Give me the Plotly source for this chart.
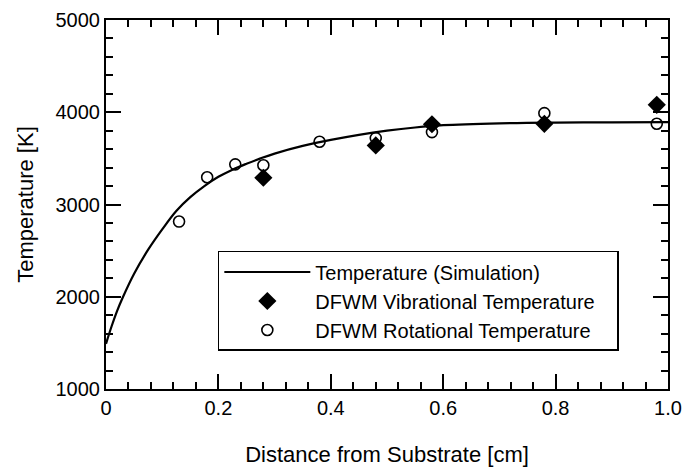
import plotly.graph_objects as go

# Simulation curve
sim_x = [0.0, 0.01, 0.02, 0.03, 0.05, 0.075, 0.1, 0.125, 0.15, 0.175, 0.2, 0.225,
         0.25, 0.275, 0.3, 0.35, 0.4, 0.45, 0.5, 0.55, 0.6, 0.7, 0.8, 0.9, 1.0]
sim_T = [1490, 1680, 1850, 1995, 2250, 2510, 2730, 2930, 3080, 3200, 3300, 3378,
         3442, 3500, 3552, 3635, 3700, 3755, 3800, 3835, 3860, 3880, 3888, 3891, 3893]

# DFWM vibrational temperature (filled diamonds)
vib_x = [0.28, 0.48, 0.58, 0.78, 0.98]
vib_T = [3290, 3640, 3870, 3875, 4080]

# DFWM rotational temperature (open circles)
rot_x = [0.13, 0.18, 0.23, 0.28, 0.38, 0.48, 0.58, 0.78, 0.98]
rot_T = [2815, 3295, 3435, 3425, 3680, 3720, 3785, 3990, 3875]

names = ["Temperature (Simulation)", "DFWM Vibrational Temperature", "DFWM Rotational Temperature"]

FONT = "Liberation Sans, Arial, sans-serif"
PAD = "\u00a0" * 3

fig = go.Figure()
fig.add_trace(go.Scatter(x=sim_x, y=sim_T, mode="lines",
                         line=dict(color="black", width=2.2, shape="spline"),
                         name=names[0]))
fig.add_trace(go.Scatter(x=vib_x, y=vib_T, mode="markers",
                         marker=dict(symbol="diamond", size=14, color="black"),
                         name=names[1] + PAD))
fig.add_trace(go.Scatter(x=rot_x, y=rot_T, mode="markers",
                         marker=dict(symbol="circle-open", size=11, color="black", line=dict(width=1.6)),
                         name=names[2]))

axis_common = dict(showline=True, linecolor="black", linewidth=2, mirror="ticks",
                   ticks="inside", ticklen=15, tickwidth=2, tickcolor="black",
                   showgrid=False, zeroline=False, automargin=False,
                   tickfont=dict(family=FONT, size=20, color="black"))

fig.update_xaxes(range=[0, 1.0], tickvals=[0, 0.2, 0.4, 0.6, 0.8, 1.0],
                 ticktext=["0", "0.2", "0.4", "0.6", "0.8", "1.0"],
                 minor=dict(ticks="inside", dtick=0.04, ticklen=7, tickwidth=1.5, tickcolor="black"),
                 title=dict(text="Distance from Substrate [cm]", font=dict(family=FONT, size=22, color="black"),
                            standoff=30),
                 **axis_common)
fig.update_yaxes(range=[1000, 5000], dtick=1000,
                 minor=dict(ticks="inside", dtick=200, ticklen=7, tickwidth=1.5, tickcolor="black"),
                 title=dict(text="Temperature [K]", font=dict(family=FONT, size=22, color="black"),
                            standoff=16),
                 **axis_common)

fig.update_layout(
    width=683, height=467,
    margin=dict(l=106, r=15, t=20, b=78),
    paper_bgcolor="white", plot_bgcolor="white",
    showlegend=True,
    legend=dict(x=0.199, y=0.374, xanchor="left", yanchor="top",
                bordercolor="black", borderwidth=1.5, bgcolor="white",
                font=dict(family=FONT, size=20, color="black"),
                itemwidth=86, tracegroupgap=0),
)

fig.write_html("out.html")
